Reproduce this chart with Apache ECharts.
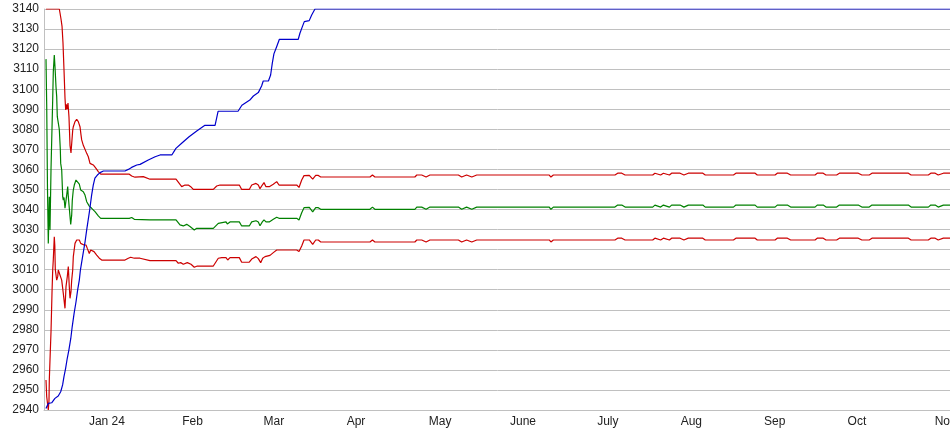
<!DOCTYPE html>
<html><head><meta charset="utf-8">
<script src="https://cdn.jsdelivr.net/npm/echarts@6/dist/echarts.min.js"></script>
<style>html,body{margin:0;padding:0;background:#fff}#c{width:950px;height:435px}</style>
</head><body><div id="c"></div><script>
const monthDays = [23,54.3,84,114,144.7,175,206,236.5,267,297,329.3];
const monthLabels = ['Jan 24','Feb','Mar','Apr','May','June','July','Aug','Sep','Oct','Nov'];

const blue = [[0.7,2940.8],[1.6,2943.3],[2.8,2943.6],[4.0,2945.8],[5.2,2947],[6.1,2949.1],[6.8,2952.5],[7.3,2956.6],[7.9,2960.8],[8.5,2965.8],[9.1,2970],[9.8,2975.8],[10.3,2981.5],[11.0,2988.2],[11.7,2994],[12.3,2999.9],[12.9,3004.8],[13.3,3009.8],[14.1,3016.5],[15.0,3023.9],[15.6,3029.8],[16.6,3038.9],[17.4,3047.2],[18.0,3052.2],[18.6,3055.6],[19.5,3057.2],[20.5,3058.4],[21.7,3059.2],[29.6,3059.2],[30.8,3060],[32.0,3061],[33.9,3062.2],[35.1,3062.5],[38.1,3064.7],[40.6,3066.3],[42.4,3067.2],[46.7,3067.2],[48.2,3070.5],[50.5,3073.3],[53,3076.3],[55.8,3079.2],[58.8,3082],[62.5,3082],[63.6,3089],[70.9,3089],[72.3,3092],[75.2,3094.6],[76.5,3096.6],[78.3,3098.3],[79.5,3101.6],[80.1,3104.1],[82,3104.1],[82.8,3107.1],[83.4,3112.9],[84,3117.6],[85,3121.2],[86,3124.9],[92.9,3124.9],[93.5,3127.9],[94.4,3131.2],[95.1,3133.7],[96.9,3134.2],[97.8,3137],[99,3140],[332,3140]];

const upperEarly = [[0.73,3140],[5.59,3140],[5.85,3138],[6.21,3135],[6.58,3131.5],[6.94,3123],[7.31,3109.6],[7.67,3095.6],[7.93,3089.6],[8.15,3092.5],[8.4,3090],[8.77,3093.1],[9.13,3086],[9.5,3072],[9.86,3068.2],[10.23,3068.2],[10.49,3079.6],[10.71,3081.3],[11.33,3083.8],[11.95,3085],[12.53,3083.8],[13.15,3081.3],[13.52,3077.2],[13.77,3074.7],[14.36,3072],[15.6,3068],[16.19,3066.3],[16.81,3063],[17.43,3063],[18.01,3062.2],[19.0,3060.5],[19.84,3058.9],[20.72,3057.6],[29.59,3057.6],[30.2,3058.5],[31.17,3057.6],[32.04,3056.7],[33.25,3056.1],[36.28,3056.4],[38.71,3055.1],[48.23,3055.1],[50.31,3051.4],[51.52,3052.2],[52.72,3052.2],[53.6,3051.4],[54.55,3050],[55.17,3049.2],[56.01,3050],[61.86,3050],[63.1,3051.7],[64.3,3052.2],[66.13,3052.2],[66.75,3051.4],[67.7,3052.2],[71.36,3052.2],[72.23,3050],[75.0,3050],[75.89,3052.2],[77.46,3053],[78.3,3052.2],[78.92,3050.4],[79.76,3052.2],[80.38,3053.4],[81.1,3051.4],[82.3,3051.4],[83.78,3052.6],[85.02,3053.9],[85.86,3052.2],[92.33,3052.2],[93.17,3051],[94.15,3054.7],[95.0,3056.9],[96.93,3057],[98.17,3055.1],[99.27,3057],[100.22,3057]];

const midEarly = [[0.73,3115],[0.99,3092],[1.28,3050],[1.57,3023],[1.94,3046.4],[2.19,3029.8],[2.56,3060],[3.18,3095],[3.4,3108.7],[3.76,3117],[4.02,3111.2],[4.27,3111.2],[4.38,3101.2],[4.64,3096.3],[4.86,3086.3],[5.22,3085.5],[5.59,3080],[5.96,3070],[6.1,3063],[6.47,3059.7],[6.83,3046.4],[7.05,3044.7],[7.31,3046],[7.67,3040.6],[7.93,3039.7],[8.29,3047.2],[8.66,3051.4],[8.88,3046.4],[9.24,3040.6],[9.76,3032.5],[10.12,3037.3],[10.34,3044.7],[10.7,3049.7],[11.07,3052.2],[11.69,3054.7],[12.17,3054.7],[12.9,3052.7],[13.41,3049.7],[14.36,3048.9],[14.98,3047.2],[15.6,3043.9],[16.55,3041.7],[17.43,3040.6],[18.63,3038.9],[19.84,3036.8],[20.72,3035.6],[29.59,3035.6],[30.2,3036.4],[31.17,3035.6],[32.04,3036],[33.0,3035.1],[38.71,3034.8],[48.23,3034.8],[49.69,3032.3],[50.9,3031.8],[52.14,3032.6],[53.34,3031.5],[54.91,3029.8],[55.79,3030.6],[61.86,3030.6],[63.68,3033.1],[64.3,3033.8],[66.5,3033.8],[66.97,3032.8],[67.96,3033.8],[71.36,3033.8],[72.23,3031.8],[75.0,3031.8],[75.89,3033.8],[77.46,3034.4],[78.3,3033.8],[78.92,3031.9],[79.76,3033.8],[80.38,3034.8],[81.1,3033.8],[82.3,3033.8],[83.78,3035.1],[85.02,3036.1],[85.86,3035.6],[92.33,3035.6],[93.17,3034.8],[94.15,3038.4],[95.0,3040.9],[96.93,3041.1],[98.17,3038.8],[99.27,3040.9],[100.22,3040.9]];

const lowerEarly = [[0.73,2955],[0.99,2946.6],[1.21,2944.1],[1.57,2940],[1.83,2945],[1.94,2955],[2.19,2964.9],[2.56,2979],[2.92,2998.2],[3.18,3009.8],[3.4,3015],[3.76,3026.4],[3.95,3022],[4.13,3010],[4.64,3004.8],[5.01,3006.5],[5.22,3009.8],[5.85,3009],[6.47,3004.8],[7.05,2998.2],[7.67,2990.7],[8.04,3001.5],[8.51,3006.5],[8.88,3011.5],[9.24,3001.5],[9.5,2995.7],[9.86,2999],[10.12,3004.8],[10.49,3009.8],[10.71,3016.5],[11.33,3023.1],[11.95,3024.8],[12.9,3024.8],[13.41,3023.1],[14.14,3023.9],[14.61,3022.3],[15.35,3022.3],[15.82,3020.6],[16.55,3018.1],[17.06,3019.8],[17.65,3020.6],[18.27,3019],[19.25,3017.3],[20.2,3015.7],[21.08,3014.8],[29.59,3014.8],[30.8,3015.7],[31.68,3016.2],[32.99,3015.7],[35.07,3015.7],[38.71,3014.5],[48.23,3014.5],[49.07,3013.2],[49.94,3013.5],[50.9,3012.7],[52.36,3013.5],[53.71,3012.7],[54.91,3011.2],[56.01,3011.8],[61.86,3011.8],[63.68,3015.7],[64.93,3016],[66.5,3016],[67.12,3014.8],[67.96,3016],[71.36,3016],[72.23,3013.7],[75.0,3013.7],[75.89,3015.3],[77.46,3016.5],[78.3,3015.5],[79.17,3013.5],[79.9,3015.7],[80.74,3016.5],[81.37,3016.8],[82.57,3017.1],[83.78,3018.5],[85.02,3019.8],[92.33,3019.8],[93.17,3019],[94.15,3021.8],[95.0,3024.8],[96.93,3024.8],[98.17,3022.6],[99.27,3024.8],[100.22,3024.8]];

const tailDays = [101.1,119.1,120.0,120.9,135.5,136.2,138.0,139.6,141.0,151.4,152.6,154.4,156.3,158.1,184.6,185.2,186.1,208.6,209.6,211.1,212.3,222.4,223.2,225.3,226.3,228.5,229.3,232.4,233.8,235.4,240.7,241.6,251.9,252.8,259.8,260.6,267.1,267.9,271.6,272.8,281.7,282.5,284.7,285.7,289.6,290.6,297.5,298.8,301.5,302.5,315.8,316.8,323.1,324.0,325.6,326.7,328.6,332];
const upperTail = [3056.2,3056.2,3057.2,3056.2,3056.2,3057.2,3057.2,3056.2,3057.2,3057.2,3056.2,3057.2,3056.2,3057.2,3057.2,3056.2,3057.2,3057.2,3058.1,3058.1,3057.2,3057.2,3058.1,3057.2,3058.1,3057.2,3058.1,3058.1,3057.2,3058.1,3058.1,3057.2,3057.2,3058.1,3058.1,3057.2,3057.2,3058.1,3058.1,3057.2,3057.2,3058.1,3058.1,3057.2,3057.2,3058.1,3058.1,3057.2,3057.2,3058.1,3058.1,3057.2,3057.2,3058.1,3058.1,3057.2,3058.1,3058.1];
const midTail = [3040.1,3040.1,3041.2,3040.1,3040.1,3041.2,3041.2,3040.1,3041.2,3041.2,3040.1,3041.2,3040.1,3041.2,3041.2,3040.1,3041.2,3041.2,3042.2,3042.2,3041.2,3041.2,3042.2,3041.2,3042.2,3041.2,3042.2,3042.2,3041.2,3042.2,3042.2,3041.2,3041.2,3042.2,3042.2,3041.2,3041.2,3042.2,3042.2,3041.2,3041.2,3042.2,3042.2,3041.2,3041.2,3042.2,3042.2,3041.2,3041.2,3042.2,3042.2,3041.2,3041.2,3042.2,3042.2,3041.2,3042.2,3042.2];
const lowerTail = [3023.8,3023.8,3024.8,3023.8,3023.8,3024.8,3024.8,3023.8,3024.8,3024.8,3023.8,3024.8,3023.8,3024.8,3024.8,3023.8,3024.8,3024.8,3025.7,3025.7,3024.8,3024.8,3025.7,3024.8,3025.7,3024.8,3025.7,3025.7,3024.8,3025.7,3025.7,3024.8,3024.8,3025.7,3025.7,3024.8,3024.8,3025.7,3025.7,3024.8,3024.8,3025.7,3025.7,3024.8,3024.8,3025.7,3025.7,3024.8,3024.8,3025.7,3025.7,3024.8,3024.8,3025.7,3025.7,3024.8,3025.7,3025.7];

function withTail(early, tail) { return early.concat(tailDays.map((d, i) => [d, tail[i]])); }

const font = 'Liberation Sans, Arial, sans-serif';
const chart = echarts.init(document.getElementById('c'), null, {renderer: 'canvas'});
function line(name, data, color) {
  return {name, type: 'line', data, showSymbol: false, symbol: 'none', animation: false,
    lineStyle: {color, width: 1.2}, itemStyle: {color}, z: 2};
}
chart.setOption({
  animation: false,
  backgroundColor: '#fff',
  grid: {left: 44, top: 9, width: 908.7, height: 401, containLabel: false, outerBoundsMode: 'none'},
  xAxis: {
    type: 'value', min: 0, max: 332,
    axisLine: {show: true, lineStyle: {color: '#c0c0c0'}},
    axisTick: {show: false},
    splitLine: {show: false},
    axisLabel: {customValues: monthDays, margin: 6, color: '#222', fontSize: 12, fontFamily: font,
      formatter: v => { const i = monthDays.findIndex(m => Math.abs(m - v) < 0.01); return i >= 0 ? monthLabels[i] : ''; }}
  },
  yAxis: {
    type: 'value', min: 2940, max: 3140, interval: 10,
    axisLine: {show: true, lineStyle: {color: '#c0c0c0'}},
    axisTick: {show: false},
    splitLine: {show: true, lineStyle: {color: '#c0c0c0', width: 1}},
    axisLabel: {margin: 5, color: '#222', fontSize: 12, fontFamily: font, formatter: v => String(v)}
  },
  series: [
    line('upper', withTail(upperEarly, upperTail), '#cc0000'),
    line('middle', withTail(midEarly, midTail), '#008000'),
    line('lower', withTail(lowerEarly, lowerTail), '#cc0000'),
    line('blue', blue, '#0000cc')
  ]
});
</script></body></html>
